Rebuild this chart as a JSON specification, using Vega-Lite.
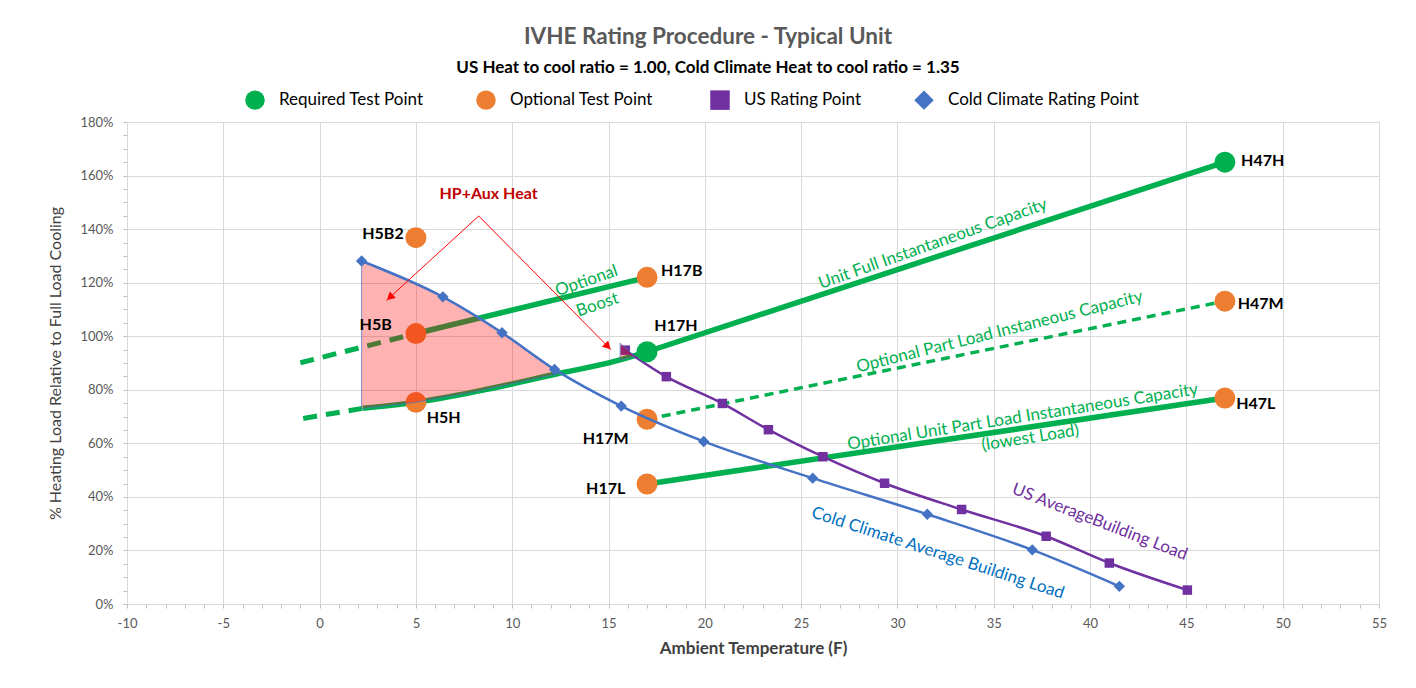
{
  "$schema": "https://vega.github.io/schema/vega-lite/v6.json",
  "width": 1252,
  "height": 482,
  "autosize": "none",
  "padding": {"left": 127, "top": 122, "right": 37, "bottom": 84},
  "background": "white",
  "title": {
    "text": "IVHE Rating Procedure - Typical Unit",
    "subtitle": "US Heat to cool ratio = 1.00, Cold Climate Heat to cool ratio = 1.35",
    "anchor": "middle",
    "frame": "group",
    "dx": -45,
    "offset": 14,
    "font": "Lato",
    "fontSize": 22.5,
    "fontWeight": "bold",
    "color": "#595959",
    "subtitleFont": "Lato",
    "subtitleFontSize": 17,
    "subtitleFontWeight": "bold",
    "subtitleColor": "#000000",
    "subtitlePadding": 12
  },
  "datasets": {
    "pts": [
      {"x": 17, "y": 94.2, "type": "Required Test Point"},
      {"x": 47, "y": 165.0, "type": "Required Test Point"},
      {"x": 5, "y": 136.8, "type": "Optional  Test Point"},
      {"x": 5, "y": 101.0, "type": "Optional  Test Point"},
      {"x": 5, "y": 75.3, "type": "Optional  Test Point"},
      {"x": 17, "y": 122.0, "type": "Optional  Test Point"},
      {"x": 17, "y": 69.0, "type": "Optional  Test Point"},
      {"x": 17, "y": 44.8, "type": "Optional  Test Point"},
      {"x": 47, "y": 113.1, "type": "Optional  Test Point"},
      {"x": 47, "y": 76.9, "type": "Optional  Test Point"}
    ],
    "us": [
      {"x": 15.87, "y": 94.8, "type": "US Rating Point"},
      {"x": 18.0, "y": 84.9, "type": "US Rating Point"},
      {"x": 20.91, "y": 74.9, "type": "US Rating Point"},
      {"x": 23.3, "y": 65.1, "type": "US Rating Point"},
      {"x": 26.13, "y": 55.0, "type": "US Rating Point"},
      {"x": 29.33, "y": 45.1, "type": "US Rating Point"},
      {"x": 33.33, "y": 35.3, "type": "US Rating Point"},
      {"x": 37.72, "y": 25.3, "type": "US Rating Point"},
      {"x": 41.0, "y": 15.3, "type": "US Rating Point"},
      {"x": 45.05, "y": 5.2, "type": "US Rating Point"}
    ],
    "cold": [
      {"x": 2.18, "y": 128.1, "type": "Cold Climate Rating Point"},
      {"x": 6.4, "y": 114.7, "type": "Cold Climate Rating Point"},
      {"x": 9.47, "y": 101.3, "type": "Cold Climate Rating Point"},
      {"x": 12.2, "y": 87.6, "type": "Cold Climate Rating Point"},
      {"x": 15.66, "y": 73.9, "type": "Cold Climate Rating Point"},
      {"x": 19.94, "y": 60.7, "type": "Cold Climate Rating Point"},
      {"x": 25.6, "y": 47.0, "type": "Cold Climate Rating Point"},
      {"x": 31.55, "y": 33.5, "type": "Cold Climate Rating Point"},
      {"x": 37.0, "y": 20.2, "type": "Cold Climate Rating Point"},
      {"x": 41.52, "y": 6.6, "type": "Cold Climate Rating Point"}
    ],
    "green": [
      {"x": -1.0, "y": 90.1, "seg": "boostExt"},
      {"x": 5, "y": 101.0, "seg": "boostExt"},
      {"x": 5, "y": 101.0, "seg": "boost"},
      {"x": 17, "y": 122.0, "seg": "boost"},
      {"x": -0.85, "y": 69.3, "seg": "lowExt"},
      {"x": 2.25, "y": 73.1, "seg": "lowExt"},
      {"x": 2.25, "y": 73.1, "seg": "low"},
      {"x": 5, "y": 75.3, "seg": "low"},
      {"x": 8.3, "y": 79.6, "seg": "low"},
      {"x": 12.3, "y": 85.9, "seg": "low"},
      {"x": 15.4, "y": 90.8, "seg": "low"},
      {"x": 17, "y": 94.2, "seg": "low"},
      {"x": 17, "y": 94.2, "seg": "full"},
      {"x": 47, "y": 165.0, "seg": "full"},
      {"x": 17, "y": 69.0, "seg": "part"},
      {"x": 47, "y": 113.1, "seg": "part"},
      {"x": 17, "y": 44.8, "seg": "lowest"},
      {"x": 47, "y": 76.9, "seg": "lowest"}
    ],
    "pink": [
      {"x": 2.18, "top": 128.1, "bottom": 73.0, "region": "A"},
      {"x": 3.5, "top": 123.9, "bottom": 74.1, "region": "A"},
      {"x": 5.0, "top": 119.5, "bottom": 75.3, "region": "A"},
      {"x": 6.4, "top": 114.7, "bottom": 77.2, "region": "A"},
      {"x": 8.0, "top": 108.1, "bottom": 79.2, "region": "A"},
      {"x": 9.47, "top": 101.3, "bottom": 81.5, "region": "A"},
      {"x": 11.0, "top": 93.8, "bottom": 83.9, "region": "A"},
      {"x": 12.2, "top": 87.6, "bottom": 85.7, "region": "A"},
      {"x": 12.5, "top": 86.2, "bottom": 86.2, "region": "A"},
      {"x": 15.6, "top": 97.4, "bottom": 91.1, "region": "B"},
      {"x": 16.35, "top": 92.6, "bottom": 92.6, "region": "B"}
    ],
    "labels": [
      {"x": 3.29, "y": 138.0, "label": "H5B2"},
      {"x": 2.91, "y": 104.2, "label": "H5B"},
      {"x": 6.44, "y": 69.5, "label": "H5H"},
      {"x": 18.8, "y": 124.2, "label": "H17B"},
      {"x": 18.5, "y": 103.8, "label": "H17H"},
      {"x": 14.85, "y": 61.8, "label": "H17M"},
      {"x": 14.85, "y": 43.0, "label": "H17L"},
      {"x": 48.96, "y": 165.4, "label": "H47H"},
      {"x": 48.86, "y": 112.0, "label": "H47M"},
      {"x": 48.6, "y": 74.7, "label": "H47L"}
    ],
    "arrows": [
      {"x": 8.26, "y": 144.9, "x2": 3.46, "y2": 113.3},
      {"x": 8.26, "y": 144.9, "x2": 15.14, "y2": 94.9}
    ]
  },
  "encoding": {
    "x": {
      "field": "x",
      "type": "quantitative",
      "title": "Ambient Temperature (F)",
      "scale": {"domain": [-10, 55], "nice": false, "zero": false},
      "axis": {
        "values": [-10,-9,-8,-7,-6,-5,-4,-3,-2,-1,0,1,2,3,4,5,6,7,8,9,10,11,12,13,14,15,16,17,18,19,20,21,22,23,24,25,26,27,28,29,30,31,32,33,34,35,36,37,38,39,40,41,42,43,44,45,46,47,48,49,50,51,52,53,54,55],
        "labelExpr": "datum.value % 5 === 0 ? '' + datum.value : ''",
        "gridOpacity": {"condition": {"test": "datum.value % 5 === 0", "value": 1}, "value": 0},
        "labelPadding": 9,
        "titlePadding": 10,
        "titleFontSize": 17,
        "titleFontWeight": "bold"
      }
    },
    "y": {
      "field": "y",
      "type": "quantitative",
      "title": "% Heating Load Relative to Full Load Cooling",
      "scale": {"domain": [0, 180], "nice": false, "zero": true},
      "axis": {
        "values": [0,5,10,15,20,25,30,35,40,45,50,55,60,65,70,75,80,85,90,95,100,105,110,115,120,125,130,135,140,145,150,155,160,165,170,175,180],
        "labelExpr": "datum.value % 20 === 0 ? datum.value + '%' : ''",
        "gridOpacity": {"condition": {"test": "datum.value % 20 === 0", "value": 1}, "value": 0},
        "labelPadding": 10,
        "titlePadding": 16,
        "titleFontSize": 16,
        "titleFontWeight": "normal"
      }
    }
  },
  "layer": [
    {
      "data": {"values": [{"x": 5}, {"x": 17}]},
      "mark": {"type": "rule", "color": "#0070C0", "strokeWidth": 3.5, "strokeDash": [9, 6]},
      "encoding": {"y": {"datum": 0}, "y2": {"datum": 180}}
    },
    {
      "data": {"values": [{"x": 47}]},
      "mark": {"type": "rule", "color": "#2F5597", "strokeWidth": 4, "strokeDash": [13, 7]},
      "encoding": {"y": {"datum": 0}, "y2": {"datum": 180}}
    },
    {
      "data": {"name": "green"},
      "transform": [{"filter": {"field": "seg", "oneOf": ["boost", "low", "full", "lowest"]}}],
      "mark": {"type": "line", "color": "#00B050", "strokeWidth": 5.5, "interpolate": "monotone"},
      "encoding": {"detail": {"field": "seg"}}
    },
    {
      "data": {"name": "green"},
      "transform": [{"filter": {"field": "seg", "oneOf": ["boostExt", "lowExt"]}}],
      "mark": {"type": "line", "color": "#00B050", "strokeWidth": 5, "strokeDash": [14, 9]},
      "encoding": {"detail": {"field": "seg"}}
    },
    {
      "data": {"name": "green"},
      "transform": [{"filter": {"field": "seg", "equal": "part"}}],
      "mark": {"type": "line", "color": "#00B050", "strokeWidth": 3.5, "strokeDash": [9, 6]},
      "encoding": {}
    },
    {
      "data": {"name": "us"},
      "mark": {"type": "line", "color": "#7030A0", "strokeWidth": 2.5, "interpolate": "monotone"},
      "encoding": {}
    },
    {
      "data": {"name": "us"},
      "mark": {"type": "point", "filled": true, "opacity": 1, "size": 90},
      "encoding": {
        "color": {"field": "type", "type": "nominal", "scale": {"domain": ["Required Test Point", "Optional  Test Point", "US Rating Point", "Cold Climate Rating Point"], "range": ["#00B050", "#ED7D31", "#7030A0", "#4472C4"]}, "legend": {"title": null}},
        "shape": {"field": "type", "type": "nominal", "scale": {"domain": ["Required Test Point", "Optional  Test Point", "US Rating Point", "Cold Climate Rating Point"], "range": ["circle", "circle", "square", "diamond"]}, "legend": {"title": null}}
      }
    },
    {
      "data": {"name": "pts"},
      "mark": {"type": "point", "filled": true, "opacity": 1, "size": 440},
      "encoding": {
        "color": {"field": "type", "type": "nominal", "scale": {"domain": ["Required Test Point", "Optional  Test Point", "US Rating Point", "Cold Climate Rating Point"], "range": ["#00B050", "#ED7D31", "#7030A0", "#4472C4"]}, "legend": {"title": null}},
        "shape": {"field": "type", "type": "nominal", "scale": {"domain": ["Required Test Point", "Optional  Test Point", "US Rating Point", "Cold Climate Rating Point"], "range": ["circle", "circle", "square", "diamond"]}, "legend": {"title": null}}
      }
    },
    {
      "data": {"name": "pink"},
      "mark": {"type": "area", "color": "#FF0000", "fillOpacity": 0.3, "stroke": "#4472C4", "strokeWidth": 1, "strokeOpacity": 0.7},
      "encoding": {
        "y": {"field": "top", "type": "quantitative", "stack": null, "title": "% Heating Load Relative to Full Load Cooling"},
        "y2": {"field": "bottom"},
        "detail": {"field": "region"}
      }
    },
    {
      "data": {"name": "cold"},
      "mark": {"type": "line", "color": "#4472C4", "strokeWidth": 2.5, "interpolate": "monotone"},
      "encoding": {}
    },
    {
      "data": {"name": "cold"},
      "mark": {"type": "point", "filled": true, "opacity": 1, "size": 130},
      "encoding": {
        "color": {"field": "type", "type": "nominal", "scale": {"domain": ["Required Test Point", "Optional  Test Point", "US Rating Point", "Cold Climate Rating Point"], "range": ["#00B050", "#ED7D31", "#7030A0", "#4472C4"]}, "legend": {"title": null}},
        "shape": {"field": "type", "type": "nominal", "scale": {"domain": ["Required Test Point", "Optional  Test Point", "US Rating Point", "Cold Climate Rating Point"], "range": ["circle", "circle", "square", "diamond"]}, "legend": {"title": null}}
      }
    },
    {
      "data": {"name": "arrows"},
      "mark": {"type": "rule", "color": "#FF0000", "strokeWidth": 1},
      "encoding": {"x2": {"field": "x2"}, "y2": {"field": "y2"}}
    },
    {
      "data": {"values": [{"x": 3.65, "y": 114.5}]},
      "mark": {"type": "point", "shape": "triangle-up", "filled": true, "color": "#FF0000", "opacity": 1, "size": 80, "angle": 227.7},
      "encoding": {}
    },
    {
      "data": {"values": [{"x": 14.96, "y": 96.2}]},
      "mark": {"type": "point", "shape": "triangle-up", "filled": true, "color": "#FF0000", "opacity": 1, "size": 80, "angle": 135.1},
      "encoding": {}
    },
    {
      "data": {"name": "labels"},
      "mark": {"type": "text", "font": "Lato", "fontSize": 16, "fontWeight": "bold", "color": "#000000", "align": "center", "baseline": "middle"},
      "encoding": {"text": {"field": "label"}}
    },
    {
      "data": {"values": [{"x": 8.77, "y": 153.1, "t": "HP+Aux Heat"}]},
      "mark": {"type": "text", "font": "Lato", "fontSize": 16, "fontWeight": "bold", "color": "#C00000", "align": "center", "baseline": "middle"},
      "encoding": {"text": {"field": "t"}}
    },
    {
      "data": {"values": [{"x": 13.86, "y": 120.6, "t": "Optional"}]},
      "mark": {"type": "text", "font": "Lato", "fontSize": 17, "color": "#00B050", "align": "center", "baseline": "middle", "angle": -19},
      "encoding": {"text": {"field": "t"}}
    },
    {
      "data": {"values": [{"x": 14.43, "y": 111.7, "t": "Boost"}]},
      "mark": {"type": "text", "font": "Lato", "fontSize": 17, "color": "#00B050", "align": "center", "baseline": "middle", "angle": -19},
      "encoding": {"text": {"field": "t"}}
    },
    {
      "data": {"values": [{"x": 31.84, "y": 134.4, "t": "Unit Full Instantaneous Capacity"}]},
      "mark": {"type": "text", "font": "Lato", "fontSize": 17, "color": "#00B050", "align": "center", "baseline": "middle", "angle": -19.5},
      "encoding": {"text": {"field": "t"}}
    },
    {
      "data": {"values": [{"x": 35.3, "y": 101.6, "t": "Optional Part Load Instaneous Capacity"}]},
      "mark": {"type": "text", "font": "Lato", "fontSize": 17, "color": "#00B050", "align": "center", "baseline": "middle", "angle": -14},
      "encoding": {"text": {"field": "t"}}
    },
    {
      "data": {"values": [{"x": 36.5, "y": 69.8, "t": "Optional Unit Part Load Instantaneous Capacity"}]},
      "mark": {"type": "text", "font": "Lato", "fontSize": 17, "color": "#00B050", "align": "center", "baseline": "middle", "angle": -9},
      "encoding": {"text": {"field": "t"}}
    },
    {
      "data": {"values": [{"x": 36.9, "y": 62.0, "t": "(lowest Load)"}]},
      "mark": {"type": "text", "font": "Lato", "fontSize": 17, "color": "#00B050", "align": "center", "baseline": "middle", "angle": -9},
      "encoding": {"text": {"field": "t"}}
    },
    {
      "data": {"values": [{"x": 40.5, "y": 30.6, "t": "US AverageBuilding  Load"}]},
      "mark": {"type": "text", "font": "Lato", "fontSize": 17, "color": "#7030A0", "align": "center", "baseline": "middle", "angle": 21},
      "encoding": {"text": {"field": "t"}}
    },
    {
      "data": {"values": [{"x": 32.09, "y": 19.0, "t": "Cold Climate Average Building Load"}]},
      "mark": {"type": "text", "font": "Lato", "fontSize": 17, "color": "#0070C0", "align": "center", "baseline": "middle", "angle": 18},
      "encoding": {"text": {"field": "t"}}
    }
  ],
  "config": {
    "view": {"stroke": null},
    "font": "Lato",
    "axis": {
      "labelFont": "Lato",
      "labelFontSize": 13,
      "labelColor": "#595959",
      "titleFont": "Lato",
      "titleColor": "#404040",
      "gridColor": "#D9D9D9",
      "domainColor": "#D9D9D9",
      "tickColor": "#BFBFBF",
      "tickSize": 4,
      "labelOverlap": false,
      "labelFlush": false,
      "labelBound": false
    },
    "legend": {
      "orient": "none",
      "legendX": 118,
      "legendY": -32,
      "direction": "horizontal",
      "labelFont": "Lato",
      "labelFontSize": 17,
      "labelColor": "#000000",
      "symbolSize": 380,
      "symbolStrokeWidth": 0,
      "labelOffset": 14,
      "columnPadding": 52,
      "labelLimit": 400
    }
  }
}
